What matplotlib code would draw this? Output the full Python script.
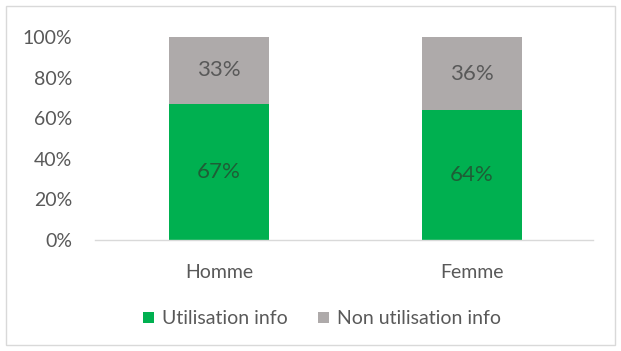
import numpy as np
import matplotlib.pyplot as plt
from matplotlib.patches import Rectangle

# data
categories = ["Homme", "Femme"]
utilisation = [67, 64]
non_utilisation = [33, 36]
series_names = ["Utilisation info", "Non utilisation info"]
ticks = [0, 20, 40, 60, 80, 100]

green = "#00B050"
grey = "#AEAAAA"
txt = "#595959"

plt.rcParams["font.family"] = ["Lato", "DejaVu Sans"]

W, H = 621, 351
fig = plt.figure(figsize=(W / 100, H / 100), dpi=100)

# light frame around the chart area
fig.patches.append(Rectangle((6 / W, 6 / H), 1 - 12 / W, 1 - 12 / H,
                             transform=fig.transFigure, fill=False,
                             edgecolor="#D9D9D9", linewidth=1.0))

ax = fig.add_axes([95 / W, (H - 240) / H, (593 - 95) / W, (240 - 37) / H])
xs = np.arange(len(categories))
width = 0.396

b1 = ax.bar(xs, utilisation, width=width, color=green, label=series_names[0])
b2 = ax.bar(xs, non_utilisation, width=width, bottom=utilisation,
            color=grey, label=series_names[1])

for rect, v in zip(b1, utilisation):
    ax.text(rect.get_x() + rect.get_width() / 2, v / 2, f"{v}%",
            ha="center", va="center", fontsize=16, color="#1E5E36")
for rect, b, v in zip(b2, utilisation, non_utilisation):
    ax.text(rect.get_x() + rect.get_width() / 2, b + v / 2, f"{v}%",
            ha="center", va="center", fontsize=16, color="#595959")

ax.set_xlim(-0.49, 1.48)
ax.set_ylim(0, 100)
ax.set_yticks(ticks)
ax.set_yticklabels([f"{t}%" for t in ticks])
ax.set_xticks(xs)
ax.set_xticklabels(categories)
ax.tick_params(axis="y", length=0, pad=16.5, labelsize=14, labelcolor=txt)
ax.tick_params(axis="x", length=0, pad=17, labelsize=14, labelcolor=txt)

for s in ["top", "right", "left"]:
    ax.spines[s].set_visible(False)
ax.spines["bottom"].set_color("#D9D9D9")
ax.spines["bottom"].set_linewidth(1.0)

leg = fig.legend(handles=[b1, b2], labels=series_names, loc="center",
                 bbox_to_anchor=(322 / W, (H - 319) / H), ncol=2, frameon=False,
                 fontsize=14, handlelength=0.55, handleheight=0.55,
                 handletextpad=0.4, columnspacing=1.6)
for t in leg.get_texts():
    t.set_color(txt)

fig.savefig("out.png", dpi=100)
